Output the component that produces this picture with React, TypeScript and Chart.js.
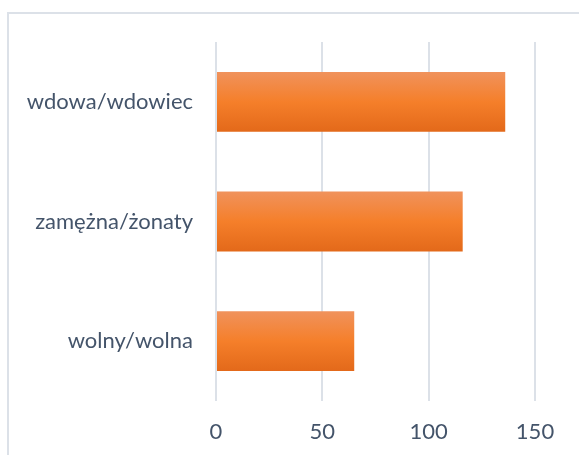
import React, { useEffect, useRef } from "react";
import { Chart, registerables } from "chart.js";

Chart.register(...registerables);

const categories = ["wdowa/wdowiec", "zamężna/żonaty", "wolny/wolna"];
const values = [136, 116, 65];
const xTicks = [0, 50, 100, 150];

const FONT = "Lato";
const TEXT = "#44546A";
const GRID = "#DCE1E8";

export default function App() {
  const ref = useRef<HTMLCanvasElement>(null);
  useEffect(() => {
    const canvas = ref.current!;
    const chart = new Chart(canvas, {
      type: "bar",
      data: {
        labels: categories,
        datasets: [
          {
            data: values,
            barPercentage: 0.5,
            categoryPercentage: 1,
            borderWidth: 0,
            backgroundColor: (ctx: any) => {
              const c = ctx.chart;
              const area = c.chartArea;
              const y = c.scales?.y;
              if (!area || !y) return "#F47F2B";
              const center = y.getPixelForValue(ctx.dataIndex);
              const half = (area.bottom - area.top) / categories.length / 4;
              const g = c.ctx.createLinearGradient(0, center - half, 0, center + half);
              g.addColorStop(0, "#F0925C");
              g.addColorStop(0.5, "#F57F2A");
              g.addColorStop(1, "#E3691A");
              return g;
            },
          },
        ],
      },
      options: {
        indexAxis: "y",
        animation: false,
        responsive: false,
        maintainAspectRatio: false,
        layout: { padding: { left: 0, right: 44, top: 42, bottom: 0 } },
        plugins: { legend: { display: false }, tooltip: { enabled: false } },
        scales: {
          x: {
            min: 0,
            max: 150,
            afterBuildTicks: (s: any) => {
              s.ticks = xTicks.map((v) => ({ value: v }));
            },
            grid: { color: GRID, lineWidth: 2, drawTicks: false },
            border: { display: false },
            ticks: {
              color: TEXT,
              font: { family: FONT, size: 22 },
              padding: 18,
            },
            afterFit: (s: any) => {
              s.height = 54;
            },
          },
          y: {
            grid: { display: false, drawTicks: false },
            border: { display: false },
            ticks: {
              color: TEXT,
              font: { family: FONT, size: 22 },
              padding: 23,
            },
            afterFit: (s: any) => {
              s.width = 216;
            },
          },
        },
      },
    });
    return () => chart.destroy();
  }, []);
  return (
    <div
      style={{
        position: "fixed",
        left: 0,
        top: 0,
        width: 579,
        height: 455,
        background: "#fff",
        overflow: "hidden",
      }}
    >
      <div
        style={{
          position: "absolute",
          left: 7,
          top: 12,
          width: 620,
          height: 500,
          border: "2px solid #DCE1E8",
        }}
      />
      <canvas
        ref={ref}
        width={579}
        height={455}
        style={{ position: "absolute", left: 0, top: 0 }}
      />
    </div>
  );
}
